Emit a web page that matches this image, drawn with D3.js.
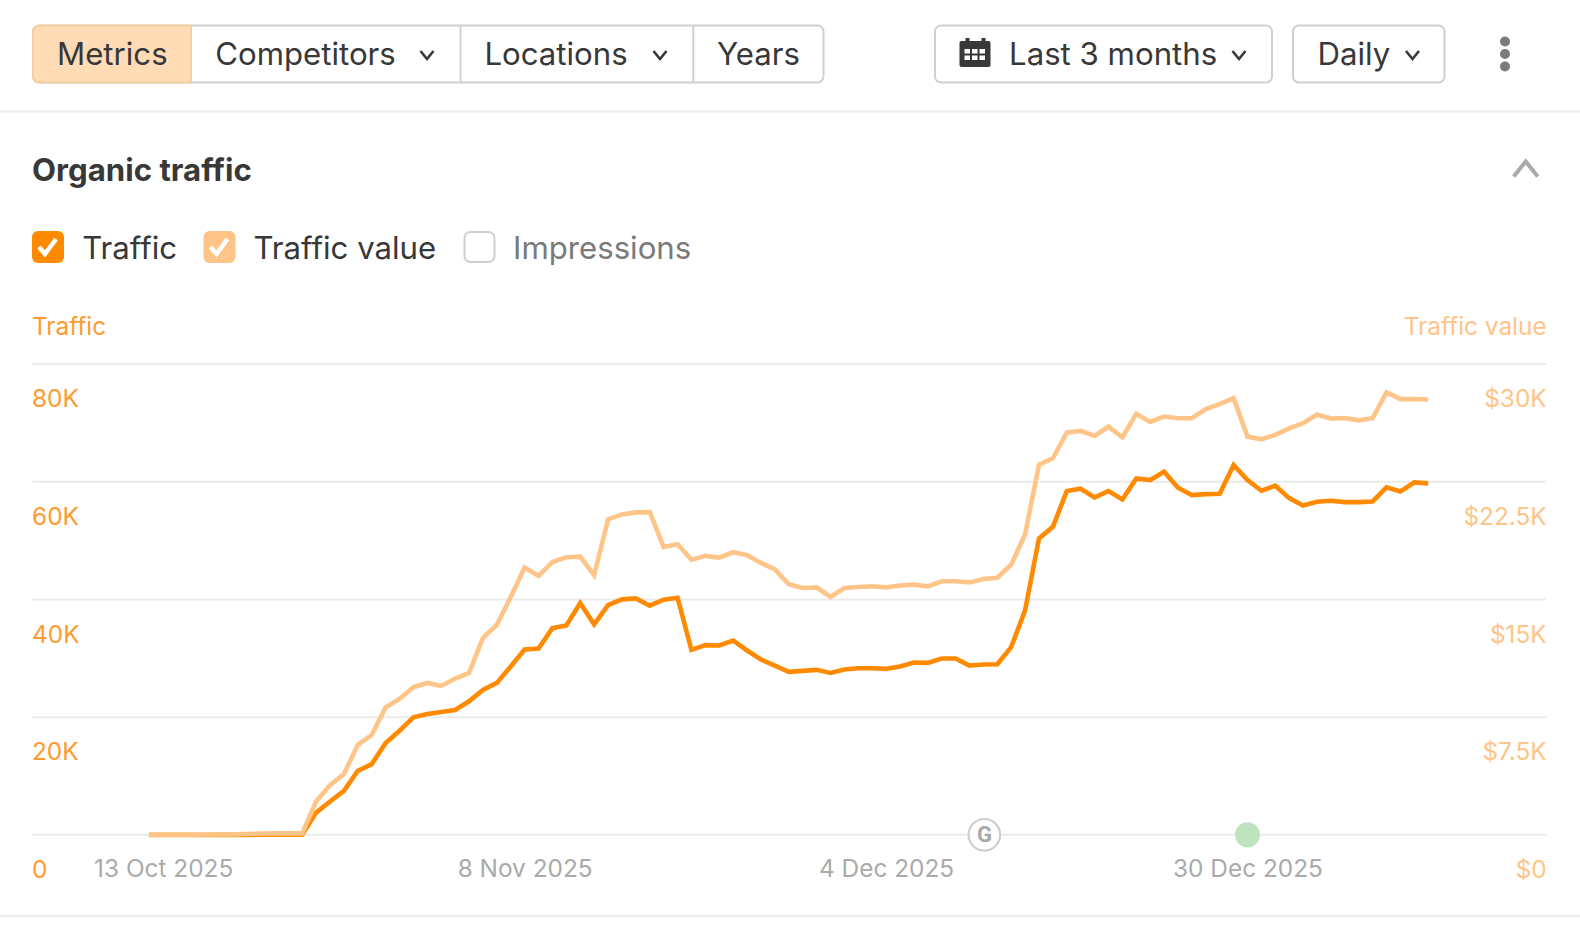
<!DOCTYPE html>
<html>
<head>
<meta charset="utf-8">
<script src="https://cdn.jsdelivr.net/npm/d3@7"></script>
<style>
  html, body { margin: 0; padding: 0; background: #fff; }
  svg { display: block; font-family: Inter, sans-serif; }
</style>
</head>
<body>
<svg id="chart" width="1580" height="950"></svg>
<script>
// Daily readings, 12 Oct 2025 to 12 Jan 2026
const firstDay = new Date(2025, 9, 12);
const traffic = [
  50, 50, 50, 60, 60, 70, 70, 80, 100, 100, 90, 90,
  3860, 5740, 7550, 10960, 12100, 15680, 17780, 20050, 20600, 20960, 21300, 22780,
  24700, 25900, 28700, 31580, 31750, 35200, 35670, 39480, 35840, 39130, 40100, 40270,
  39020, 40040, 40380, 31520, 32320, 32260, 33110, 31410, 29880, 28850, 27780, 27950,
  28120, 27600, 28170, 28400, 28400, 28290, 28680, 29370, 29310, 30050, 30050, 28850,
  29020, 29080, 31980, 38230, 50440, 52430, 58500, 58900, 57420, 58500, 57080, 60660,
  60380, 61800, 59070, 57820, 57990, 58050, 62930, 60380, 58560, 59410, 57310, 56060,
  56690, 56860, 56630, 56630, 56740, 59130, 58450, 59980, 59810
];
const trafficValue = [
  40, 40, 40, 40, 50, 50, 60, 80, 110, 120, 120, 120,
  2150, 3200, 3900, 5770, 6390, 8160, 8690, 9440, 9710, 9520, 9990, 10350,
  12590, 13420, 15190, 17060, 16530, 17420, 17720, 17760, 16570, 20130, 20450, 20580,
  20600, 18380, 18550, 17570, 17810, 17700, 18040, 17850, 17360, 16950, 16000, 15760,
  15800, 15190, 15760, 15830, 15870, 15800, 15920, 15975, 15870, 16190, 16190, 16120,
  16340, 16420, 17250, 19190, 23620, 24030, 25670, 25770, 25450, 26050, 25370, 26860,
  26350, 26690, 26580, 26580, 27160, 27480, 27860, 25410, 25240, 25520, 25940, 26260,
  26820, 26560, 26600, 26450, 26580, 28240, 27800, 27800, 27780
];
const trafficTicks = [0, 20000, 40000, 60000, 80000];
const trafficTickLabels = ['0', '20K', '40K', '60K', '80K'];
const valueTicks = [0, 7500, 15000, 22500, 30000];
const valueTickLabels = ['$0', '$7.5K', '$15K', '$22.5K', '$30K'];
const dateTicks = [new Date(2025, 9, 13), new Date(2025, 10, 8), new Date(2025, 11, 4), new Date(2025, 11, 30)];
const googleUpdateDay = new Date(2025, 11, 11);
const noteDay = new Date(2025, 11, 30);

const DARK = '#ff8a00';
const AXIS_DARK = '#ff9a2e';
const LIGHT = '#ffc488';
const INK = '#383838';
const BORDER = '#d0d0d0';
const GRID = '#ebebeb';
const FONT_UI = 31.2;
const FONT_AXIS = 24.4;

const svg = d3.select('#chart');
const dates = traffic.map((v, i) => d3.timeDay.offset(firstDay, i));

// scales, pinned on the two outer date ticks and the gridlines
const x = d3.scaleTime()
  .domain([dateTicks[0], dateTicks[3]])
  .range([163.2, 1247.5]);
const yLeft = d3.scaleLinear().domain([0, 80000]).range([834.3, 363.6]);
const yRight = d3.scaleLinear().domain([0, 30000]).range([834.3, 363.6]);

function addText(parent, str, px, py, size, color, weight) {
  return parent.append('text')
    .attr('x', px).attr('y', py)
    .attr('dominant-baseline', 'central')
    .attr('font-size', size)
    .attr('font-weight', weight || 400)
    .attr('fill', color)
    .text(str);
}

function chevron(parent, cx, cy, halfW, halfH, color, width, up) {
  const dir = up ? -1 : 1;
  parent.append('path')
    .attr('d', d3.line()([[cx - halfW, cy - dir * halfH], [cx, cy + dir * halfH], [cx + halfW, cy - dir * halfH]]))
    .attr('fill', 'none')
    .attr('stroke', color)
    .attr('stroke-width', width);
}

// Toolbar
const toolbar = svg.append('g');
toolbar.append('rect')
  .attr('x', 33).attr('y', 25.5).attr('width', 790.5).attr('height', 57).attr('rx', 6)
  .attr('fill', '#fff').attr('stroke', BORDER).attr('stroke-width', 2);
toolbar.append('path')
  .attr('d', 'M191 25.5 H39 a6 6 0 0 0 -6 6 V76.5 a6 6 0 0 0 6 6 H191 Z')
  .attr('fill', '#ffdcb5').attr('stroke', '#f5cfa2').attr('stroke-width', 2);
[460.5, 693.3].forEach(px => {
  toolbar.append('line').attr('x1', px).attr('x2', px).attr('y1', 25.5).attr('y2', 82.5)
    .attr('stroke', BORDER).attr('stroke-width', 2);
});
addText(toolbar, 'Metrics', 57, 53.7, FONT_UI, INK);
addText(toolbar, 'Competitors', 215.2, 53.7, FONT_UI, INK);
addText(toolbar, 'Locations', 484.4, 53.7, FONT_UI, INK);
addText(toolbar, 'Years', 717, 53.7, FONT_UI, INK);
chevron(toolbar, 427, 55, 6.5, 4, INK, 2.6);
chevron(toolbar, 660, 55, 6.5, 4, INK, 2.6);

[[935, 337], [1293, 151.5]].forEach(b => {
  toolbar.append('rect')
    .attr('x', b[0]).attr('y', 25.5).attr('width', b[1]).attr('height', 57).attr('rx', 6)
    .attr('fill', '#fff').attr('stroke', BORDER).attr('stroke-width', 2);
});
addText(toolbar, 'Last 3 months', 1009, 53.7, FONT_UI, INK);
addText(toolbar, 'Daily', 1317.5, 53.7, FONT_UI, INK);
chevron(toolbar, 1239, 55, 6.5, 4, INK, 2.6);
chevron(toolbar, 1412.5, 55, 6.5, 4, INK, 2.6);

// calendar icon
const cal = toolbar.append('g');
cal.append('rect').attr('x', 959.5).attr('y', 41).attr('width', 31).attr('height', 26).attr('rx', 2).attr('fill', INK);
[965.5, 981.5].forEach(px => cal.append('rect').attr('x', px).attr('y', 38).attr('width', 4).attr('height', 5).attr('fill', INK));
d3.range(2).forEach(r => d3.range(3).forEach(c => {
  cal.append('rect')
    .attr('x', 964.5 + c * 7.5).attr('y', 49 + r * 6.5)
    .attr('width', 5.5).attr('height', 4.5).attr('fill', '#fff');
}));

// kebab menu
[41.5, 54, 66.5].forEach(py => {
  toolbar.append('circle').attr('cx', 1505).attr('cy', py).attr('r', 5).attr('fill', '#7b7b7b');
});

// separators
[111.5, 916].forEach(py => {
  svg.append('line').attr('x1', 0).attr('x2', 1580).attr('y1', py).attr('y2', py)
    .attr('stroke', '#ededed').attr('stroke-width', 2);
});

// Title and legend
addText(svg, 'Organic traffic', 32, 170, FONT_UI, INK, 700);
chevron(svg, 1525.7, 169, 12, 7.5, '#aaaaaa', 4, true);

function checkbox(px, fill, checked) {
  svg.append('rect')
    .attr('x', px).attr('y', checked ? 231 : 232).attr('width', checked ? 32 : 30).attr('height', checked ? 32 : 30).attr('rx', 6)
    .attr('fill', checked ? fill : '#fff')
    .attr('stroke', checked ? 'none' : '#cfcfcf').attr('stroke-width', 2);
  if (checked) {
    svg.append('path')
      .attr('d', d3.line()([[px + 7, 247], [px + 13, 254], [px + 24, 239]]))
      .attr('fill', 'none').attr('stroke', '#fff').attr('stroke-width', 4.5);
  }
}
checkbox(32, DARK, true);
addText(svg, 'Traffic', 82.2, 247.5, FONT_UI, INK);
checkbox(203.5, LIGHT, true);
addText(svg, 'Traffic value', 253.5, 247.5, FONT_UI, INK);
checkbox(464.5, '#fff', false);
addText(svg, 'Impressions', 513, 247.5, FONT_UI, '#7a7a7a');

// Axis titles
addText(svg, 'Traffic', 32, 325.5, FONT_AXIS, AXIS_DARK);
addText(svg, 'Traffic value', 1546.7, 325.5, FONT_AXIS, LIGHT).attr('text-anchor', 'end');

// Axes
const leftAxis = svg.append('g')
  .attr('transform', 'translate(32.5,0)')
  .call(d3.axisRight(yLeft)
    .tickValues(trafficTicks)
    .tickSize(1513.5)
    .tickFormat((d, i) => trafficTickLabels[i]));
leftAxis.select('.domain').remove();
leftAxis.selectAll('line').attr('stroke', GRID).attr('stroke-width', 2);
leftAxis.selectAll('text')
  .attr('x', -0.5).attr('dy', 0).attr('y', 34.3)
  .attr('dominant-baseline', 'central')
  .attr('text-anchor', 'start')
  .attr('font-family', 'Inter, sans-serif')
  .attr('font-size', FONT_AXIS)
  .attr('fill', AXIS_DARK);

const rightAxis = svg.append('g')
  .attr('transform', 'translate(1546.7,0)')
  .call(d3.axisLeft(yRight)
    .tickValues(valueTicks)
    .tickSize(0)
    .tickFormat((d, i) => valueTickLabels[i]));
rightAxis.select('.domain').remove();
rightAxis.selectAll('text')
  .attr('x', 0).attr('dy', 0).attr('y', 34.3)
  .attr('dominant-baseline', 'central')
  .attr('text-anchor', 'end')
  .attr('font-family', 'Inter, sans-serif')
  .attr('font-size', FONT_AXIS)
  .attr('fill', LIGHT);

const bottomAxis = svg.append('g')
  .attr('transform', 'translate(0,834.3)')
  .call(d3.axisBottom(x)
    .tickValues(dateTicks)
    .tickSize(0)
    .tickFormat(d3.timeFormat('%-d %b %Y')));
bottomAxis.select('.domain').remove();
bottomAxis.selectAll('text')
  .attr('y', 34).attr('dy', 0)
  .attr('dominant-baseline', 'central')
  .attr('font-family', 'Inter, sans-serif')
  .attr('font-size', FONT_AXIS)
  .attr('fill', '#aaaaaa');

// Lines
const lineLeft = d3.line().x((d, i) => x(dates[i])).y(d => yLeft(d));
const lineRight = d3.line().x((d, i) => x(dates[i])).y(d => yRight(d));
const lines = svg.append('g').attr('transform', 'translate(0,1)');
lines.append('path').datum(traffic)
  .attr('d', lineLeft)
  .attr('fill', 'none').attr('stroke', DARK).attr('stroke-width', 4.6);
lines.append('path').datum(trafficValue)
  .attr('d', lineRight)
  .attr('fill', 'none').attr('stroke', LIGHT).attr('stroke-width', 4.6);

// Annotation markers on the baseline
const markerY = yLeft(0) + 0.5;
const gx = x(googleUpdateDay) + 1;
svg.append('circle').attr('cx', gx).attr('cy', markerY).attr('r', 15.8)
  .attr('fill', '#fff').attr('stroke', '#cfcfcf').attr('stroke-width', 2.2);
svg.append('text').attr('x', gx).attr('y', markerY)
  .attr('text-anchor', 'middle').attr('dominant-baseline', 'central')
  .attr('font-family', 'Roboto, sans-serif').attr('font-weight', 700).attr('font-size', 22)
  .attr('fill', '#a8a8a8').text('G');
svg.append('circle').attr('cx', x(noteDay)).attr('cy', markerY).attr('r', 12.5).attr('fill', '#bfe3bf');
</script>
</body>
</html>
